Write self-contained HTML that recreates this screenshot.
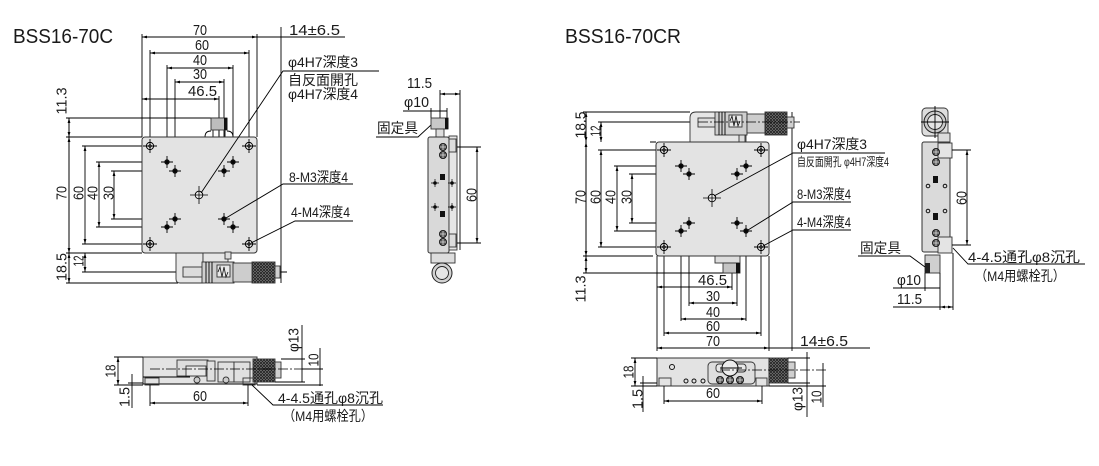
<!DOCTYPE html>
<html><head><meta charset="utf-8"><style>
html,body{margin:0;padding:0;background:#fff;}
svg{display:block}
text{font-family:"Liberation Sans","Noto Sans CJK JP",sans-serif;fill:#1a1a1a;}
.d{font-size:15px}
.j{font-size:14px}
.t{font-size:20px}
.l{stroke:#000;stroke-width:0.9;fill:none}
.m{marker-start:url(#a);marker-end:url(#a)}
.p{stroke:#333;stroke-width:0.9}
</style></head><body>
<svg width="1099" height="466" viewBox="0 0 1099 466">
<defs>
<marker id="a" viewBox="0 0 5 4" refX="5" refY="2" markerWidth="5" markerHeight="4" markerUnits="userSpaceOnUse" orient="auto-start-reverse"><path d="M0,0.6 L5,2 L0,3.4z" fill="#000"/></marker>
<pattern id="k" width="3" height="3" patternUnits="userSpaceOnUse"><rect width="3" height="3" fill="#8a8a8a"/><path d="M0,0L3,3M3,0L0,3" stroke="#222" stroke-width="0.9"/></pattern>
<g id="m4"><circle r="3.6" fill="#f4f4f4" stroke="#000" stroke-width="1"/><circle r="1.4" fill="none" stroke="#000" stroke-width=".6"/><path d="M-7,0H7M0,-7V7" stroke="#000" stroke-width=".9"/></g>
<g id="m3"><circle r="2.7" fill="#111"/><path d="M-6,0H6M0,-6V6" stroke="#000" stroke-width=".9"/></g>
<g id="c4"><circle r="3.8" fill="#eee" stroke="#000" stroke-width=".9"/><path d="M-9,0H9M0,-9V9" stroke="#000" stroke-width=".8"/></g>
<g id="dc"><circle r="3.6" fill="#555" stroke="#111" stroke-width=".8"/><path d="M-3,0H3M0,-3V3" stroke="#ddd" stroke-width=".8"/></g>
<g id="dt"><circle r="1.8" fill="#111"/><path d="M-4,0H4M0,-4V4" stroke="#000" stroke-width=".7"/></g>
</defs>
<rect width="1099" height="466" fill="#fff"/>

<!-- Titles -->
<text class="t" x="13" y="43" textLength="100" lengthAdjust="spacingAndGlyphs">BSS16-70C</text>
<text class="t" x="565" y="43" textLength="116" lengthAdjust="spacingAndGlyphs">BSS16-70CR</text>

<!-- ================= LEFT TOP VIEW ================= -->
<line class="l m" x1="142" y1="37" x2="257" y2="37"/>
<line class="l m" x1="150" y1="53" x2="249" y2="53"/>
<line class="l m" x1="167" y1="68" x2="233" y2="68"/>
<line class="l m" x1="175" y1="82" x2="224" y2="82"/>
<line class="l m" x1="142" y1="99" x2="219" y2="99"/>
<line class="l" x1="257" y1="37" x2="345" y2="37"/>
<path class="l" d="M142,34V137 M150,50V146 M167,65V162 M175,79V171 M224,79V171 M233,65V162 M249,50V146 M257,34V137 M219,96V140 M281,27V283"/>
<text class="d" x="200" y="35" text-anchor="middle" textLength="14" lengthAdjust="spacingAndGlyphs">70</text>
<text class="d" x="202" y="50" text-anchor="middle" textLength="14" lengthAdjust="spacingAndGlyphs">60</text>
<text class="d" x="200" y="65" text-anchor="middle" textLength="14" lengthAdjust="spacingAndGlyphs">40</text>
<text class="d" x="200" y="79" text-anchor="middle" textLength="14" lengthAdjust="spacingAndGlyphs">30</text>
<text class="d" x="188" y="96" textLength="29" lengthAdjust="spacingAndGlyphs">46.5</text>
<text class="d" x="289" y="35" textLength="51" lengthAdjust="spacingAndGlyphs">14±6.5</text>

<line class="l" x1="69" y1="118" x2="69" y2="283"/>
<line class="l m" x1="69" y1="118" x2="69" y2="137"/>
<line class="l m" x1="69" y1="137" x2="69" y2="253"/>
<line class="l m" x1="69" y1="253" x2="69" y2="283"/>
<line class="l m" x1="85" y1="146" x2="85" y2="244"/>
<line class="l m" x1="99" y1="162" x2="99" y2="227"/>
<line class="l m" x1="114" y1="171" x2="114" y2="219"/>
<line class="l m" x1="85" y1="253" x2="85" y2="272"/>
<path class="l" d="M66,118H225 M66,137H142 M82,146H150 M96,162H167 M111,171H175 M111,219H175 M96,227H167 M82,244H150 M66,253H142 M82,272H287 M66,283H178"/>
<text class="d" transform="translate(61,101) rotate(-90)" y="5.3" text-anchor="middle" textLength="27" lengthAdjust="spacingAndGlyphs">11.3</text>
<text class="d" transform="translate(61,193) rotate(-90)" y="5.3" text-anchor="middle" textLength="14" lengthAdjust="spacingAndGlyphs">70</text>
<text class="d" transform="translate(78,193) rotate(-90)" y="5.3" text-anchor="middle" textLength="14" lengthAdjust="spacingAndGlyphs">60</text>
<text class="d" transform="translate(92,193) rotate(-90)" y="5.3" text-anchor="middle" textLength="14" lengthAdjust="spacingAndGlyphs">40</text>
<text class="d" transform="translate(108,193) rotate(-90)" y="5.3" text-anchor="middle" textLength="14" lengthAdjust="spacingAndGlyphs">30</text>
<text class="d" transform="translate(61,267) rotate(-90)" y="5.3" text-anchor="middle" textLength="28" lengthAdjust="spacingAndGlyphs">18.5</text>
<text class="d" transform="translate(78,261) rotate(-90)" y="5.3" text-anchor="middle" textLength="11" lengthAdjust="spacingAndGlyphs">12</text>

<path class="l" d="M205,137 Q205,131 211,131 M227,131 Q233,131 233,137 M213,130V137 M219,130V137 M225,130V137"/>
<rect x="211" y="118" width="16" height="12" fill="#bdbdbd" class="p"/>
<rect x="224" y="118" width="3.5" height="12" fill="#111"/>

<rect x="142" y="137" width="115" height="116" rx="3" fill="#e3e3e3" stroke="#333" stroke-width="1"/>
<use href="#m4" x="150" y="146"/><use href="#m4" x="249" y="146"/><use href="#m4" x="150" y="244"/><use href="#m4" x="249" y="244"/>
<use href="#m3" x="167" y="162"/><use href="#m3" x="175" y="171"/><use href="#m3" x="224" y="171"/><use href="#m3" x="233" y="162"/>
<use href="#m3" x="175" y="219"/><use href="#m3" x="167" y="227"/><use href="#m3" x="224" y="219"/><use href="#m3" x="233" y="227"/>
<use href="#c4" x="199" y="195"/>

<path d="M176,253 V279 Q176,283 180,283 H203 V253 Z" fill="#e6e6e6" class="p"/>
<rect x="203" y="253" width="25" height="9" fill="#e6e6e6" class="p"/>
<rect x="225" y="252" width="6" height="7" fill="#ddd" class="p"/>
<rect x="183" y="267" width="20" height="10" fill="#dcdcdc" class="p"/>
<rect x="202" y="262" width="32" height="21" fill="#cfcfcf" class="p"/>
<path class="l" d="M206,262V283 M209,262V283 M212,262V283"/>
<rect x="217" y="265" width="13" height="12" fill="#e8e8e8" class="p"/>
<path d="M218,272 l2,-5 2,10 2,-10 2,10 2,-5" stroke="#111" stroke-width=".8" fill="none"/>
<rect x="233" y="263" width="20" height="19" fill="#cdcdcd" class="p"/>
<rect x="252" y="262" width="23" height="21" fill="url(#k)" class="p"/>
<rect x="275" y="266" width="5" height="12" fill="#d0d0d0" class="p"/>

<text class="j" x="288" y="67" textLength="70" lengthAdjust="spacingAndGlyphs">φ4H7深度3</text>
<text class="j" x="288" y="85" textLength="70" lengthAdjust="spacingAndGlyphs">自反面開孔</text>
<text class="j" x="288" y="99" textLength="70" lengthAdjust="spacingAndGlyphs">φ4H7深度4</text>
<path class="l" d="M379,71H283L201,193"/>
<text class="j" x="289" y="182" textLength="59" lengthAdjust="spacingAndGlyphs">8-M3深度4</text>
<path class="l" d="M353,184H283L226,218"/>
<text class="j" x="291" y="217" textLength="59" lengthAdjust="spacingAndGlyphs">4-M4深度4</text>
<path class="l" d="M353,221H295L251,243"/>

<!-- ================= LEFT SIDE VIEW ================= -->
<line class="l m" x1="440" y1="94" x2="460" y2="94"/>
<path class="l" d="M440,90V118 M460,90V250 M403,111H447 M431,108V118 M447,108V118"/>
<text class="d" x="407" y="88" textLength="25" lengthAdjust="spacingAndGlyphs">11.5</text>
<text class="d" x="404" y="107" textLength="25" lengthAdjust="spacingAndGlyphs">φ10</text>
<text class="j" x="377" y="133" textLength="41" lengthAdjust="spacingAndGlyphs">固定具</text>
<path class="l" d="M376,137H418L431,125"/>
<rect x="431" y="118" width="17" height="11" fill="#c8c8c8" class="p"/>
<rect x="445" y="118" width="3.5" height="11" fill="#111"/>
<rect x="436" y="129" width="8" height="8" fill="#ddd" class="p"/>
<rect x="428" y="137" width="21" height="116" rx="2" fill="#d9d9d9" stroke="#333" stroke-width="1"/>
<rect x="449" y="136" width="8" height="114" fill="#e6e6e6" class="p"/>
<rect x="449" y="139" width="7" height="13" fill="#ddd" class="p"/>
<rect x="449" y="234" width="7" height="13" fill="#ddd" class="p"/>
<use href="#dc" x="443" y="147"/><use href="#dc" x="443" y="155"/>
<use href="#dc" x="443" y="234"/><use href="#dc" x="443" y="242"/>
<rect x="440" y="174" width="5" height="6" fill="#111"/><rect x="440" y="211" width="5" height="6" fill="#111"/>
<use href="#dt" x="435" y="183"/><use href="#dt" x="452" y="183"/><use href="#dt" x="435" y="207"/><use href="#dt" x="452" y="207"/>
<rect x="431" y="253" width="24" height="10" fill="#ddd" class="p"/>
<circle cx="442" cy="273" r="10" fill="#d2d2d2" stroke="#222" stroke-width="1"/>
<circle cx="442" cy="273" r="6.5" fill="#e6e6e6" stroke="#222" stroke-width=".9"/>
<line class="l m" x1="477" y1="147" x2="477" y2="243"/>
<path class="l" d="M457,147H481 M457,243H481"/>
<text class="d" transform="translate(471,195) rotate(-90)" y="5.3" text-anchor="middle" textLength="14" lengthAdjust="spacingAndGlyphs">60</text>

<!-- ================= LEFT BOTTOM VIEW ================= -->
<rect x="143" y="357" width="114" height="27" fill="#e3e3e3" stroke="#333" stroke-width="1"/>
<rect x="177" y="360" width="31" height="16" fill="#ddd" class="p"/>
<rect x="186" y="366" width="20" height="10" fill="#e8e8e8" class="p"/>
<rect x="207" y="361" width="8" height="20" fill="#e0e0e0" class="p"/>
<rect x="218" y="362" width="16" height="20" fill="#e0e0e0" class="p"/>
<rect x="234" y="362" width="16" height="20" fill="#e0e0e0" class="p"/>
<path class="l" d="M143,377H190 M143,384H257"/>
<rect x="145" y="378" width="14" height="7" fill="none" class="p"/>
<rect x="243" y="378" width="12" height="7" fill="none" class="p"/>
<circle cx="197" cy="380" r="3" fill="#ccc" class="p"/><circle cx="226" cy="380" r="3" fill="#ccc" class="p"/>
<rect x="253" y="359" width="22" height="23" fill="url(#k)" class="p"/>
<rect x="275" y="362" width="6" height="16" fill="#d0d0d0" class="p"/>
<line x1="150" y1="369" x2="322" y2="369" stroke="#000" stroke-width=".7" stroke-dasharray="10,2,2,2"/>
<line class="l m" x1="118" y1="357" x2="118" y2="385"/>
<path class="l" d="M114,357H143 M114,385H143 M128,383H143 M132,374V408"/>
<text class="d" transform="translate(110,371) rotate(-90)" y="5.3" text-anchor="middle" textLength="13" lengthAdjust="spacingAndGlyphs">18</text>
<text class="d" transform="translate(124,397) rotate(-90)" y="5.3" text-anchor="middle" textLength="20" lengthAdjust="spacingAndGlyphs">1.5</text>
<line class="l m" x1="150" y1="403" x2="248" y2="403"/>
<path class="l" d="M150,385V406 M248,385V406"/>
<text class="d" x="200" y="401" text-anchor="middle" textLength="14" lengthAdjust="spacingAndGlyphs">60</text>
<path class="l" d="M302,325V382 M281,359H305 M275,382H305 M320,348V386 M257,385H323 M302,369H323"/>
<text class="d" transform="translate(293,340) rotate(-90)" y="5.3" text-anchor="middle" textLength="24" lengthAdjust="spacingAndGlyphs">φ13</text>
<text class="d" transform="translate(313,360) rotate(-90)" y="5.3" text-anchor="middle" textLength="13" lengthAdjust="spacingAndGlyphs">10</text>
<path class="l" d="M252,385L273,405H383"/>
<text class="j" x="278" y="403" textLength="105" lengthAdjust="spacingAndGlyphs">4-4.5通孔φ8沉孔</text>
<text class="j" x="283" y="421" textLength="90" lengthAdjust="spacingAndGlyphs">（M4用螺栓孔）</text>

<!-- ================= RIGHT TOP VIEW ================= -->
<line class="l" x1="586" y1="112" x2="586" y2="273"/>
<line class="l m" x1="586" y1="112" x2="586" y2="142"/>
<line class="l m" x1="586" y1="142" x2="586" y2="256"/>
<line class="l m" x1="586" y1="256" x2="586" y2="273"/>
<line class="l m" x1="601" y1="122" x2="601" y2="142"/>
<line class="l m" x1="601" y1="150" x2="601" y2="247"/>
<line class="l m" x1="617" y1="166" x2="617" y2="231"/>
<line class="l m" x1="632" y1="174" x2="632" y2="223"/>
<path class="l" d="M583,112H690 M598,122H698 M650,142H656 M598,150H664 M614,166H681 M629,174H689 M629,223H689 M614,231H681 M598,247H664 M583,256H653 M583,273H740"/>
<text class="d" transform="translate(580,125) rotate(-90)" y="5.3" text-anchor="middle" textLength="27" lengthAdjust="spacingAndGlyphs">18.5</text>
<text class="d" transform="translate(595,131) rotate(-90)" y="5.3" text-anchor="middle" textLength="11" lengthAdjust="spacingAndGlyphs">12</text>
<text class="d" transform="translate(580,197) rotate(-90)" y="5.3" text-anchor="middle" textLength="14" lengthAdjust="spacingAndGlyphs">70</text>
<text class="d" transform="translate(595,197) rotate(-90)" y="5.3" text-anchor="middle" textLength="14" lengthAdjust="spacingAndGlyphs">60</text>
<text class="d" transform="translate(610,197) rotate(-90)" y="5.3" text-anchor="middle" textLength="14" lengthAdjust="spacingAndGlyphs">40</text>
<text class="d" transform="translate(626,197) rotate(-90)" y="5.3" text-anchor="middle" textLength="14" lengthAdjust="spacingAndGlyphs">30</text>
<text class="d" transform="translate(580,289) rotate(-90)" y="5.3" text-anchor="middle" textLength="27" lengthAdjust="spacingAndGlyphs">11.3</text>

<path class="l" d="M657,256V351 M664,247V336 M681,231V321 M689,223V306 M737,223V306 M746,231V321 M761,247V336 M769,256V351 M732,273V290 M792,112V351"/>
<line class="l m" x1="657" y1="287" x2="732" y2="287"/>
<line class="l m" x1="689" y1="303" x2="737" y2="303"/>
<line class="l m" x1="681" y1="319" x2="746" y2="319"/>
<line class="l m" x1="664" y1="333" x2="761" y2="333"/>
<line class="l m" x1="657" y1="348" x2="769" y2="348"/>
<line class="l" x1="769" y1="348" x2="870" y2="348"/>
<text class="d" x="698" y="285" textLength="29" lengthAdjust="spacingAndGlyphs">46.5</text>
<text class="d" x="713" y="301" text-anchor="middle" textLength="14" lengthAdjust="spacingAndGlyphs">30</text>
<text class="d" x="713" y="317" text-anchor="middle" textLength="14" lengthAdjust="spacingAndGlyphs">40</text>
<text class="d" x="713" y="331" text-anchor="middle" textLength="14" lengthAdjust="spacingAndGlyphs">60</text>
<text class="d" x="713" y="346" text-anchor="middle" textLength="14" lengthAdjust="spacingAndGlyphs">70</text>
<text class="d" x="800" y="346" textLength="48" lengthAdjust="spacingAndGlyphs">14±6.5</text>

<path d="M690,142 V118 Q690,112 696,112 H746 V142 Z" fill="#e6e6e6" class="p"/>
<rect x="739" y="133" width="6" height="9" fill="#ddd" class="p"/>
<rect x="698" y="118" width="17" height="9" fill="#dcdcdc" class="p"/>
<rect x="715" y="112" width="32" height="23" fill="#cfcfcf" class="p"/>
<path class="l" d="M719,112V135 M722,112V135 M725,112V135"/>
<rect x="729" y="115" width="13" height="12" fill="#e8e8e8" class="p"/>
<path d="M730,121 l2,-5 2,10 2,-10 2,10 2,-5" stroke="#111" stroke-width=".8" fill="none"/>
<rect x="747" y="114" width="18" height="19" fill="#cdcdcd" class="p"/>
<rect x="765" y="112" width="22" height="23" fill="url(#k)" class="p"/>
<rect x="787" y="117" width="7" height="11" fill="#d0d0d0" class="p"/>
<line x1="698" y1="122" x2="800" y2="122" stroke="#000" stroke-width=".7" stroke-dasharray="10,2,2,2"/>

<rect x="656" y="142" width="113" height="114" rx="3" fill="#e3e3e3" stroke="#333" stroke-width="1"/>
<use href="#m4" x="664" y="150"/><use href="#m4" x="761" y="150"/><use href="#m4" x="664" y="247"/><use href="#m4" x="761" y="247"/>
<use href="#m3" x="681" y="166"/><use href="#m3" x="689" y="174"/><use href="#m3" x="737" y="174"/><use href="#m3" x="746" y="166"/>
<use href="#m3" x="689" y="223"/><use href="#m3" x="681" y="231"/><use href="#m3" x="737" y="223"/><use href="#m3" x="746" y="231"/>
<use href="#c4" x="712" y="198"/>
<rect x="715" y="256" width="25" height="7" fill="#ddd" class="p"/>
<rect x="723" y="263" width="17" height="10" fill="#c4c4c4" class="p"/>
<rect x="736" y="263" width="4" height="10" fill="#111"/>

<text class="j" x="797" y="149" textLength="70" lengthAdjust="spacingAndGlyphs">φ4H7深度3</text>
<path class="l" d="M885,153H793L714,196"/>
<text class="j" x="797" y="166" style="font-size:12px" textLength="92" lengthAdjust="spacingAndGlyphs">自反面開孔 φ4H7深度4</text>
<text class="j" x="797" y="199" textLength="54" lengthAdjust="spacingAndGlyphs">8-M3深度4</text>
<path class="l" d="M851,202H793L748,230"/>
<text class="j" x="797" y="227" textLength="54" lengthAdjust="spacingAndGlyphs">4-M4深度4</text>
<path class="l" d="M851,230H793L763,246"/>

<!-- ================= RIGHT SIDE VIEW ================= -->
<rect x="922" y="108" width="26" height="28" rx="4" fill="#ddd" class="p"/>
<circle cx="935" cy="122" r="11" fill="#cbcbcb" stroke="#222" stroke-width="1"/>
<circle cx="935" cy="122" r="7.5" fill="#e4e4e4" stroke="#222" stroke-width=".9"/>
<path class="l" d="M935,106V138 M921,122H949"/>
<rect x="938" y="133" width="12" height="9" fill="#ddd" class="p"/>
<rect x="922" y="142" width="28" height="110" rx="2" fill="#dadada" stroke="#333" stroke-width="1"/>
<rect x="938" y="143" width="14" height="15" fill="#e4e4e4" class="p"/>
<rect x="938" y="237" width="14" height="16" fill="#e4e4e4" class="p"/>
<use href="#dc" x="936" y="152"/><use href="#dc" x="936" y="162"/>
<use href="#dc" x="936" y="233"/><use href="#dc" x="936" y="243"/>
<rect x="933" y="176" width="5" height="7" fill="#111"/><rect x="933" y="213" width="5" height="7" fill="#111"/>
<circle cx="928" cy="186" r="1.8" fill="none" stroke="#111"/><circle cx="945" cy="186" r="1.8" fill="none" stroke="#111"/>
<circle cx="928" cy="211" r="1.8" fill="none" stroke="#111"/><circle cx="945" cy="211" r="1.8" fill="none" stroke="#111"/>
<rect x="925" y="255" width="15" height="18" fill="#cfcfcf" class="p"/>
<rect x="925" y="263" width="5" height="10" fill="#222"/>
<line class="l m" x1="967" y1="150" x2="967" y2="245"/>
<path class="l" d="M952,150H971 M952,245H971"/>
<text class="d" transform="translate(961,198) rotate(-90)" y="5.3" text-anchor="middle" textLength="14" lengthAdjust="spacingAndGlyphs">60</text>
<text class="j" x="860" y="253" textLength="41" lengthAdjust="spacingAndGlyphs">固定具</text>
<path class="l" d="M858,256H910L925,267"/>
<text class="d" x="897" y="285" textLength="24" lengthAdjust="spacingAndGlyphs">φ10</text>
<path class="l" d="M893,288H940 M925,273V291 M940,273V310 M953,253V310"/>
<text class="d" x="897" y="304" textLength="25" lengthAdjust="spacingAndGlyphs">11.5</text>
<line class="l m" x1="940" y1="307" x2="953" y2="307"/>
<line class="l" x1="893" y1="307" x2="940" y2="307"/>
<path class="l" d="M953,248L968,264H1085"/>
<text class="j" x="968" y="262" textLength="112" lengthAdjust="spacingAndGlyphs">4-4.5通孔φ8沉孔</text>
<text class="j" x="975" y="281" textLength="90" lengthAdjust="spacingAndGlyphs">（M4用螺栓孔）</text>

<!-- ================= RIGHT BOTTOM VIEW ================= -->
<rect x="657" y="358" width="112" height="28" fill="#e3e3e3" stroke="#333" stroke-width="1"/>
<rect x="659" y="378" width="12" height="8" fill="none" class="p"/>
<rect x="756" y="378" width="11" height="8" fill="none" class="p"/>
<circle cx="672" cy="367" r="2.5" fill="none" stroke="#111"/>
<circle cx="686" cy="381" r="2" fill="none" stroke="#111"/><circle cx="694" cy="381" r="2" fill="none" stroke="#111"/><circle cx="703" cy="381" r="2" fill="none" stroke="#111"/>
<rect x="708" y="362" width="47" height="22" rx="4" fill="#dedede" class="p"/>
<rect x="716" y="364" width="30" height="8" rx="3" fill="#e8e8e8" class="p"/>
<circle cx="730" cy="368" r="8" fill="#ececec" stroke="#111" stroke-width="1"/>
<line class="l" x1="720" y1="368" x2="742" y2="368"/>
<use href="#dc" x="720" y="380"/><use href="#dc" x="730" y="380"/><use href="#dc" x="740" y="380"/>
<rect x="769" y="358" width="19" height="25" fill="url(#k)" class="p"/>
<rect x="788" y="362" width="7" height="16" fill="#d0d0d0" class="p"/>
<line x1="720" y1="370" x2="826" y2="370" stroke="#000" stroke-width=".7" stroke-dasharray="10,2,2,2"/>
<line class="l m" x1="635" y1="358" x2="635" y2="386"/>
<path class="l" d="M631,358H657 M631,386H657 M640,383H657 M643,376V412"/>
<text class="d" transform="translate(628,372) rotate(-90)" y="5.3" text-anchor="middle" textLength="13" lengthAdjust="spacingAndGlyphs">18</text>
<text class="d" transform="translate(637,399) rotate(-90)" y="5.3" text-anchor="middle" textLength="20" lengthAdjust="spacingAndGlyphs">1.5</text>
<line class="l m" x1="664" y1="401" x2="762" y2="401"/>
<path class="l" d="M664,386V404 M762,386V404"/>
<text class="d" x="713" y="398" text-anchor="middle" textLength="14" lengthAdjust="spacingAndGlyphs">60</text>
<path class="l" d="M807,352V417 M788,358H810 M788,383H810 M823,363V407 M769,386H826"/>
<text class="d" transform="translate(797,399) rotate(-90)" y="5.3" text-anchor="middle" textLength="24" lengthAdjust="spacingAndGlyphs">φ13</text>
<text class="d" transform="translate(816,397) rotate(-90)" y="5.3" text-anchor="middle" textLength="13" lengthAdjust="spacingAndGlyphs">10</text>
</svg>
</body></html>
